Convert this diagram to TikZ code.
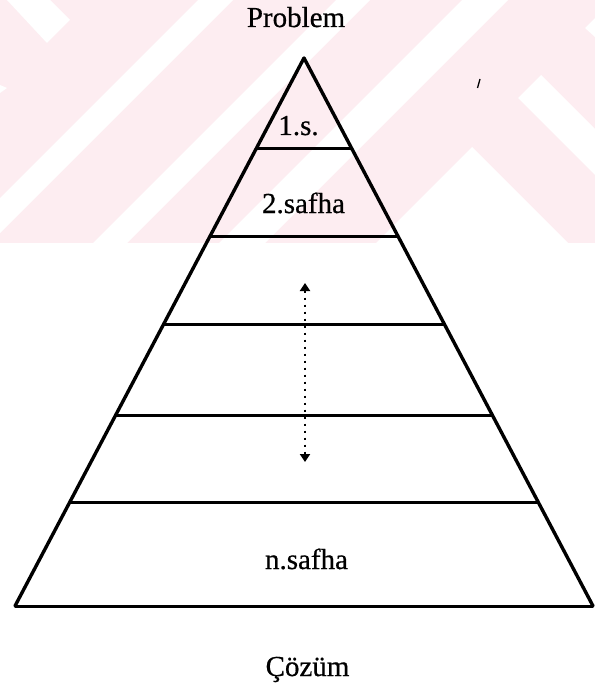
\documentclass[tikz,border=0pt]{standalone}
\usepackage{fontspec}
\setmainfont{Liberation Serif}[FakeBold=0.6]
\usetikzlibrary{calc,arrows.meta}
\definecolor{wmpink}{RGB}{253,237,241}
\begin{document}
\begin{tikzpicture}[x=1pt,y=-1pt,
  side/.style={line width=3.4pt,line join=round,line cap=round},
  layer/.style={line width=3pt},
  lbl/.style={font=\fontsize{29}{34}\selectfont,anchor=base,inner sep=0pt},
  wm/.style={fill=white,draw=none},
  dotarrow/.style={line width=2.6pt,dash pattern=on 2.5pt off 4.5pt,
    >={Triangle[width=10pt,length=8pt]},<->}]
\useasboundingbox (0,0) rectangle (595,687);
% watermark background
\fill[wmpink] (0,0) rectangle (595,243);
\begin{scope}
  \clip (0,0) rectangle (595,243);
  \fill[wm] (198,0) -- (233,0) -- (0,233) -- (0,198) -- cycle;
  \fill[wm] (336,0) -- (370,0) -- (127,243) -- (93,243) -- cycle;
  \fill[wm] (462,0) -- (508,0) -- (265,243) -- (219,243) -- cycle;
  \fill[wm] (7,0) -- (50,0) -- (70,20) -- (47,43) -- cycle;
  \fill[wm] (518,98) -- (541,75) -- (600,134) -- (600,180) -- cycle;
  \fill[wm] (585,28) -- (595,18) -- (595,37) -- cycle;
  \fill[wm] (376,243) -- (472,147) -- (568,243) -- cycle;
  \fill[wm] (0,85) -- (7,88) -- (0,93) -- cycle;
\end{scope}
% speck
\draw[line width=1.3pt] (480,79) -- (477.5,88);
% pyramid
\coordinate (A) at (304,58);
\coordinate (BL) at (15,606);
\coordinate (BR) at (593,606);
\draw[layer] (BL) -- (BR);
\foreach \t [count=\i] in {0.166,0.3266,0.4854,0.6515,0.812} {
  \coordinate (L\i a) at ($(A)!\t!(BL)$);
  \coordinate (L\i b) at ($(A)!\t!(BR)$);
  \draw[layer] (L\i a) -- (L\i b);
}
\draw[side] (BL) -- (A) -- (BR);
% labels
\node[lbl] (prob) at (296,27) {Problem};
\node[lbl] (s1) at (298.5,135) {1.s.};
\node[lbl] (s2) at (303.5,213) {2.safha};
\node[lbl] (sn) at (306.5,569) {n.safha};
\node[lbl] (coz) at (307.5,676) {Çözüm};
% dotted double arrow
\coordinate (ar1) at (305,283);
\coordinate (ar2) at (305,462);
\draw[dotarrow] (ar1) -- (ar2);
\end{tikzpicture}
\end{document}
